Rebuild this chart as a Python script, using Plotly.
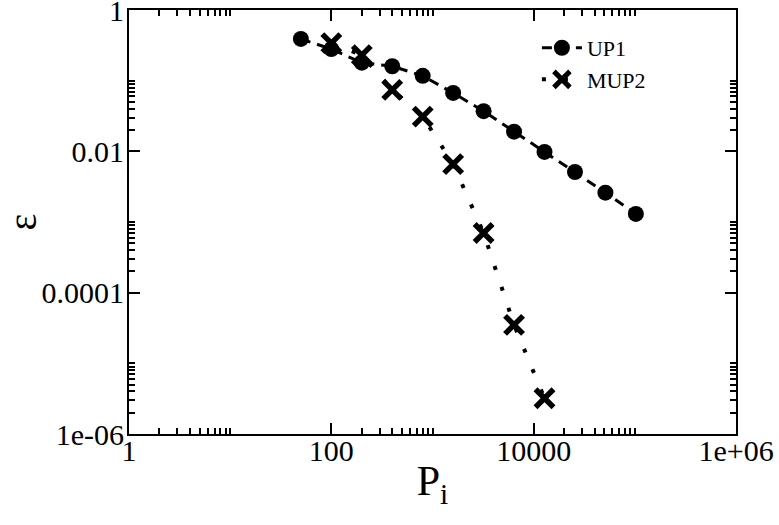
import plotly.graph_objects as go

# Data
up1_x = [50, 100, 200, 400, 800, 1600, 3200, 6400, 12800, 25600, 51200, 102400]
up1_y = [0.39, 0.28, 0.18, 0.16, 0.117, 0.067, 0.037, 0.019, 0.0098, 0.0051, 0.0026, 0.0013]
mup2_x = [100, 200, 400, 800, 1600, 3200, 6400, 12800]
mup2_y = [0.34, 0.23, 0.074, 0.031, 0.0066, 0.0007, 0.000035, 0.0000032]

x_ticks = [1, 100, 10000, 1e6]
x_ticktext = ["1", "100", "10000", "1e+06"]
y_ticks = [1e-6, 1e-4, 1e-2, 1]
y_ticktext = ["1e-06", "0.0001", "0.01", "1"]

x_minor = [m * k for m in [1, 100, 10000] for k in range(2, 11)]
y_minor = [m * k for m in [1e-6, 1e-4, 1e-2] for k in range(2, 11)]

font_family = "Liberation Serif, Times New Roman, serif"

fig = go.Figure()
fig.add_trace(go.Scatter(
    x=up1_x, y=up1_y, name="UP1", mode="lines+markers",
    line=dict(color="black", width=3, dash="10px,7px"),
    marker=dict(symbol="circle", size=16, color="black"),
))
fig.add_trace(go.Scatter(
    x=mup2_x, y=mup2_y, name="MUP2", mode="lines+markers",
    line=dict(color="black", width=4, dash="4px,18px"),
    marker=dict(symbol="x-thin", size=18, color="black",
                line=dict(color="black", width=5.5)),
))

axis_common = dict(
    type="log", showgrid=False, zeroline=False, automargin=False,
    showline=True, linecolor="black", linewidth=2,
    mirror="allticks", ticks="inside", ticklen=11, tickwidth=1.5, tickcolor="black",
    ticklabeloverflow="allow",
    tickfont=dict(family=font_family, size=30, color="black"),
)

fig.update_layout(
    width=779, height=525,
    margin=dict(l=129, r=43, t=10, b=91),
    paper_bgcolor="white", plot_bgcolor="white",
    font=dict(family=font_family, color="black"),
    showlegend=True,
    legend=dict(x=0.672, y=0.96, xanchor="left", yanchor="top",
                bgcolor="rgba(0,0,0,0)", itemwidth=40,
                font=dict(family=font_family, size=22, color="black"),
                tracegroupgap=0),
)
fig.update_xaxes(
    **axis_common, range=[0, 6], ticklabelstandoff=-11,
    tickmode="array", tickvals=x_ticks, ticktext=x_ticktext,
    minor=dict(tickmode="array", tickvals=x_minor, ticks="inside", ticklen=6,
               tickwidth=1.5, tickcolor="black"),
    title=dict(text="P<sub>i</sub>", font=dict(family=font_family, size=42), standoff=0),
)
fig.update_yaxes(
    **axis_common, range=[-6, 0], ticklabelstandoff=-3,
    tickmode="array", tickvals=y_ticks, ticktext=y_ticktext,
    minor=dict(tickmode="array", tickvals=y_minor, ticks="inside", ticklen=6,
               tickwidth=1.5, tickcolor="black"),
    title=dict(text="ε", font=dict(family=font_family, size=40), standoff=14),
)

fig.write_html("out.html")
